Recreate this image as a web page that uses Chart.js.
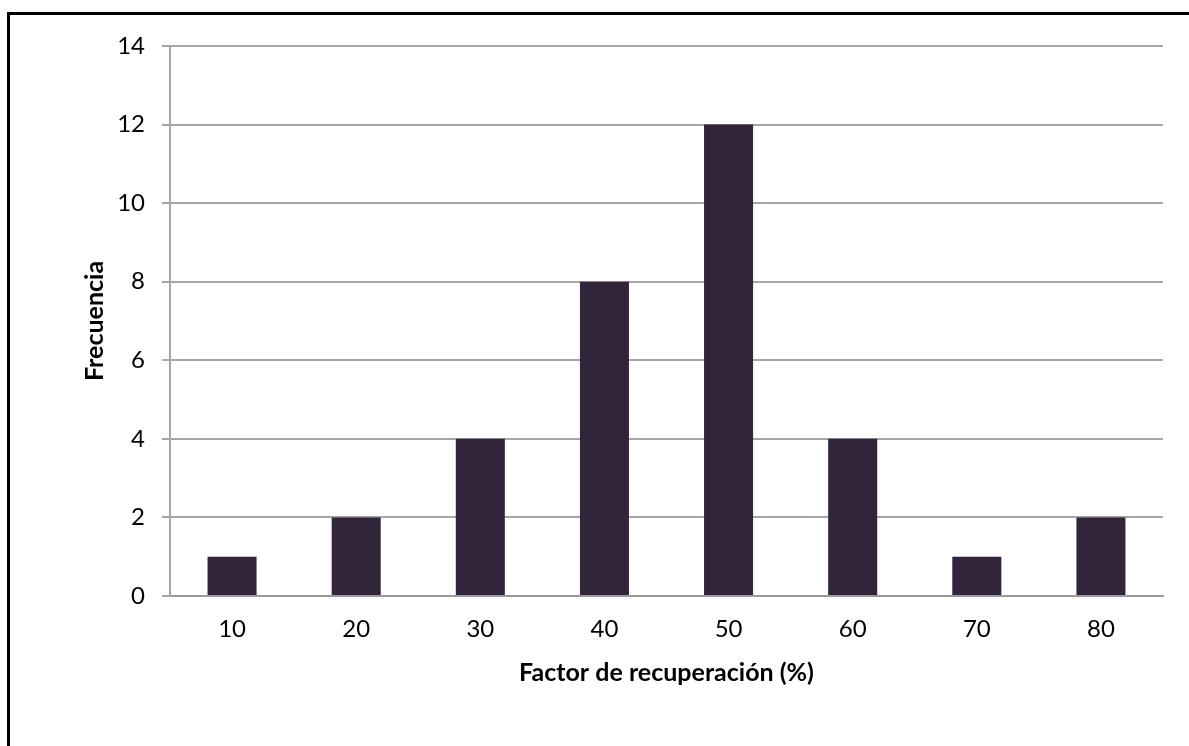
<!DOCTYPE html>
<html>
<head>
<meta charset="utf-8">
<script src="https://cdn.jsdelivr.net/npm/chart.js@4.4.1/dist/chart.umd.min.js"></script>
<style>
  html, body { margin: 0; padding: 0; background: #fff; overflow: hidden; }
  #wrap { position: relative; width: 1189px; height: 746px; }
  #frame {
    position: absolute; left: 7px; top: 12px; width: 3000px; height: 3000px;
    border-top: 3px solid #000; border-left: 3px solid #000; pointer-events: none;
  }
  canvas { position: absolute; left: 0; top: 0; }
</style>
</head>
<body>
<div id="wrap">
  <canvas id="chart" width="1189" height="746"></canvas>
  <div id="frame"></div>
</div>
<script>
// Histogram of recovery factor
const categories = ['10', '20', '30', '40', '50', '60', '70', '80'];
const frequencies = [1, 2, 4, 8, 12, 4, 1, 2];
const yTicks = [0, 2, 4, 6, 8, 10, 12, 14];
const xTitle = 'Factor de recuperación (%)';
const yTitle = 'Frecuencia';

const FONT = 'Lato, "Open Sans", sans-serif';

new Chart(document.getElementById('chart'), {
  type: 'bar',
  data: {
    labels: categories,
    datasets: [{
      data: frequencies,
      backgroundColor: '#31243b',
      borderWidth: 0,
      categoryPercentage: 1.0,
      barPercentage: 0.395
    }]
  },
  options: {
    responsive: false,
    animation: false,
    layout: { padding: { left: 80, top: 46, right: 26, bottom: 58 } },
    plugins: { legend: { display: false }, tooltip: { enabled: false } },
    scales: {
      x: {
        grid: { display: false, drawTicks: false },
        border: { display: true, color: '#9a9a9a', width: 2 },
        ticks: { color: '#000', font: { family: FONT, size: 24 }, padding: 19, maxRotation: 0 },
        title: {
          display: true, text: xTitle, color: '#000',
          font: { family: FONT, size: 25, weight: 'bold' }, padding: 0
        },
        afterFit: s => { s.height = 92; }
      },
      y: {
        min: 0, max: 14,
        afterBuildTicks: s => { s.ticks = yTicks.map(v => ({ value: v })); },
        grid: { color: '#a6a6a6', lineWidth: 2, tickLength: 8, drawTicks: true },
        border: { display: true, color: '#a6a6a6', width: 2 },
        ticks: { color: '#000', font: { family: FONT, size: 24 }, padding: 17 },
        title: {
          display: true, text: yTitle, color: '#000',
          font: { family: FONT, size: 25, weight: 'bold' }, padding: 0
        },
        afterFit: s => { s.width = 90; }
      }
    }
  }
});
</script>
</body>
</html>
